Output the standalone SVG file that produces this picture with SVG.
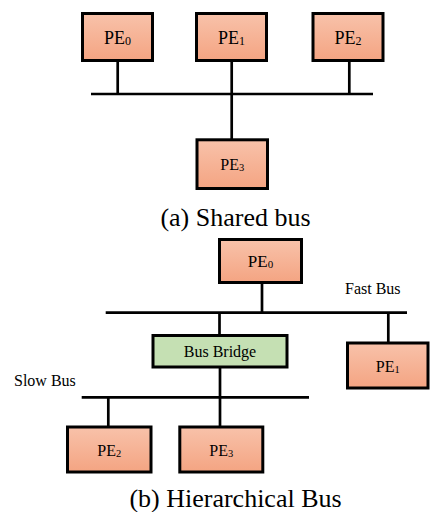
<svg xmlns="http://www.w3.org/2000/svg" width="430" height="512" viewBox="0 0 430 512">
<defs>
<linearGradient id="pe" x1="0" y1="0" x2="0" y2="1">
<stop offset="0" stop-color="#F8C2AA"/>
<stop offset="1" stop-color="#F4A482"/>
</linearGradient>
<style>
.pe{fill:url(#pe);stroke:#000;stroke-width:3}
.br{fill:#C5E0B3;stroke:#000;stroke-width:3}
.ln{stroke:#000;stroke-width:2.7;fill:none}
text{font-family:"Liberation Serif","Times New Roman",serif;fill:#000}
.lbl{text-anchor:middle}
.cap{font-size:26px;text-anchor:middle}
.bus{font-size:16px}
</style>
</defs>
<rect width="430" height="512" fill="#fff"/>
<g id="connectors">
<line class="ln" x1="91" y1="94" x2="373" y2="94"/>
<line class="ln" x1="117.7" y1="62" x2="117.7" y2="94"/>
<line class="ln" x1="231.7" y1="62" x2="231.7" y2="139"/>
<line class="ln" x1="349.3" y1="62" x2="349.3" y2="94"/>
<line class="ln" x1="105.7" y1="312.7" x2="407" y2="312.7"/>
<line class="ln" x1="262" y1="284" x2="262" y2="312.7"/>
<line class="ln" x1="219.5" y1="312.7" x2="219.5" y2="335"/>
<line class="ln" x1="388.3" y1="312.7" x2="388.3" y2="343"/>
<line class="ln" x1="81.7" y1="397.3" x2="309" y2="397.3"/>
<line class="ln" x1="220" y1="367" x2="220" y2="427"/>
<line class="ln" x1="108.3" y1="397.3" x2="108.3" y2="427"/>
</g>
<g id="a-PE0">
<rect class="pe" x="82.5" y="13.5" width="70" height="47"/>
<text class="lbl" x="117.5" y="44" font-size="18">PE<tspan font-size="12" dy="1">0</tspan></text>
</g>
<g id="a-PE1">
<rect class="pe" x="196.5" y="13.5" width="70" height="47"/>
<text class="lbl" x="231.5" y="44" font-size="18">PE<tspan font-size="12" dy="1">1</tspan></text>
</g>
<g id="a-PE2">
<rect class="pe" x="313" y="13.5" width="70" height="47"/>
<text class="lbl" x="348" y="44" font-size="18">PE<tspan font-size="12" dy="1">2</tspan></text>
</g>
<g id="a-PE3">
<rect class="pe" x="197" y="139.8" width="70.5" height="48.7"/>
<text class="lbl" x="232.3" y="170" font-size="16">PE<tspan font-size="10.5" dy="1">3</tspan></text>
</g>
<text class="cap" x="235.5" y="226">(a) Shared bus</text>
<g id="b-PE0">
<rect class="pe" x="219.5" y="239.5" width="82" height="43"/>
<text class="lbl" x="260.5" y="267" font-size="17">PE<tspan font-size="11" dy="1">0</tspan></text>
</g>
<text class="bus" x="345" y="294">Fast Bus</text>
<g id="b-Bridge">
<rect class="br" x="153" y="335.5" width="134" height="31.5"/>
<text class="lbl" x="220" y="356.7" font-size="16">Bus Bridge</text>
</g>
<g id="b-PE1">
<rect class="pe" x="347.5" y="343" width="80.5" height="45"/>
<text class="lbl" x="387.7" y="371.7" font-size="16">PE<tspan font-size="10.5" dy="1">1</tspan></text>
</g>
<text class="bus" x="14" y="385.7">Slow Bus</text>
<g id="b-PE2">
<rect class="pe" x="67.5" y="427" width="83.5" height="45"/>
<text class="lbl" x="109.2" y="456" font-size="16">PE<tspan font-size="10.5" dy="1">2</tspan></text>
</g>
<g id="b-PE3">
<rect class="pe" x="179.8" y="427" width="83" height="45"/>
<text class="lbl" x="221.3" y="456" font-size="16">PE<tspan font-size="10.5" dy="1">3</tspan></text>
</g>
<text class="cap" x="235.5" y="506.7">(b) Hierarchical Bus</text>
</svg>
